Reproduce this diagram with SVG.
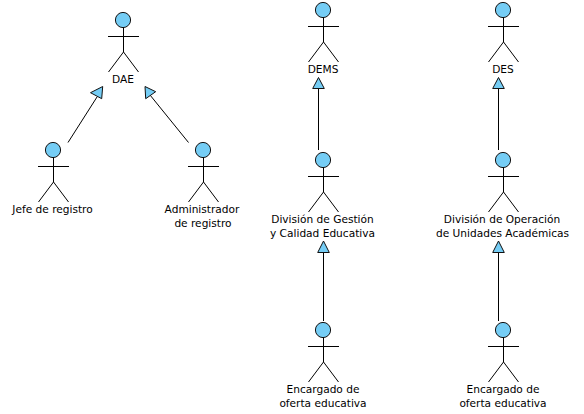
<svg xmlns="http://www.w3.org/2000/svg" xmlns:xlink="http://www.w3.org/1999/xlink" width="584" height="414" viewBox="0 0 584 414">
<style>
.l{fill:none;stroke:#000;stroke-width:1}
.c{fill:none;stroke:#000;stroke-width:1}
.h{fill:#75cdf5;stroke:#111;stroke-width:1}
.a{fill:#75cdf5;stroke:#111;stroke-width:1}
text{font-family:"DejaVu Sans",sans-serif;font-size:10.6px;fill:#000;text-anchor:middle}
</style>
<defs>
<g id="actor"><circle class="h" cx="-0.5" cy="0" r="7.6"/><path class="l" d="M0 7.5V32M-15.500 16.500H15.500M-15 52L0 32L15 52"/></g>
</defs>
<rect width="584" height="414" fill="#fff"/>
<g id="connectors">
<path class="c" d="M68 142.500L97 97"/><polygon class="a" points="102.700,86.500 90.500,92.700 101.700,98.700"/>
<path class="c" d="M188.500 142.500L150 95"/><polygon class="a" points="145,86.500 155.700,91.700 145.700,98.700"/>
<path class="c" d="M318.500 150V89"/><polygon class="a" points="318.500,77.500 312.700,88.500 324.300,88.500"/>
<path class="c" d="M323.500 321V252"/><polygon class="a" points="323.500,241 317.700,252.500 329.300,252.500"/>
<path class="c" d="M498.500 150V89"/><polygon class="a" points="498.500,77.500 492.700,88.500 504.300,88.500"/>
<path class="c" d="M498.500 321V252"/><polygon class="a" points="498.500,241 492.700,252.500 504.300,252.500"/>
</g>
<g id="dae"><use xlink:href="#actor" href="#actor" x="123.500" y="20"/><text x="123" y="83">DAE</text></g>
<g id="jefe"><use xlink:href="#actor" href="#actor" x="53.500" y="150"/><text x="52.500" y="213">Jefe de registro</text></g>
<g id="admin"><use xlink:href="#actor" href="#actor" x="203.500" y="150"/><text x="202" y="213">Administrador</text><text x="203" y="227">de registro</text></g>
<g id="dems"><use xlink:href="#actor" href="#actor" x="323.500" y="10"/><text x="323" y="73">DEMS</text></g>
<g id="des"><use xlink:href="#actor" href="#actor" x="503.500" y="10"/><text x="503" y="73">DES</text></g>
<g id="div1"><use xlink:href="#actor" href="#actor" x="323.500" y="160"/><text x="322.500" y="223">División de Gestión</text><text x="322.500" y="237">y Calidad Educativa</text></g>
<g id="div2"><use xlink:href="#actor" href="#actor" x="503.500" y="160"/><text x="502" y="223">División de Operación</text><text x="502.500" y="237">de Unidades Académicas</text></g>
<g id="enc1"><use xlink:href="#actor" href="#actor" x="323.500" y="330"/><text x="323" y="393">Encargado de</text><text x="323" y="407">oferta educativa</text></g>
<g id="enc2"><use xlink:href="#actor" href="#actor" x="503.500" y="330"/><text x="503" y="393">Encargado de</text><text x="503" y="407">oferta educativa</text></g>
</svg>
